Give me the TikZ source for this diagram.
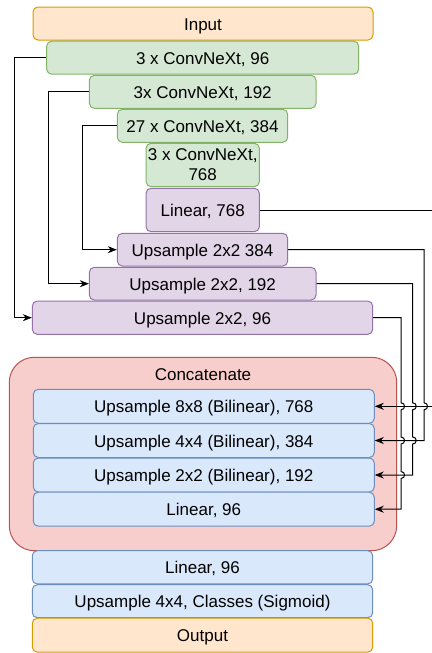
\documentclass[tikz,border=0pt]{standalone}
\usepackage{fontspec}
\setmainfont{Liberation Sans}
\usetikzlibrary{arrows.meta}

\definecolor{ioFill}{HTML}{FFE6CC}
\definecolor{ioLine}{HTML}{D79B00}
\definecolor{encFill}{HTML}{D5E8D4}
\definecolor{encLine}{HTML}{82B366}
\definecolor{decFill}{HTML}{E1D5E7}
\definecolor{decLine}{HTML}{9673A6}
\definecolor{catFill}{HTML}{F8CECC}
\definecolor{catLine}{HTML}{B85450}
\definecolor{headFill}{HTML}{DAE8FC}
\definecolor{headLine}{HTML}{6C8EBF}

% small bump where a vertical line hops over a horizontal one
\newcommand{\linejump}[2]{-- (#1,#2-3.5) .. controls (#1+4.7,#2-3.5) and (#1+4.7,#2+3.5) .. (#1,#2+3.5)}

\begin{document}
\begin{tikzpicture}[x=1pt,y=-1pt,
    every node/.style={font=\fontsize{17}{20}\selectfont},
    blk/.style={rectangle,rounded corners=5pt,draw,line width=1pt,inner sep=0pt,align=center},
    oneline/.style={text height=16pt,text depth=3pt},
    io/.style={blk,oneline,fill=ioFill,draw=ioLine},
    enc/.style={blk,oneline,fill=encFill,draw=encLine},
    dec/.style={blk,oneline,fill=decFill,draw=decLine},
    head/.style={blk,oneline,fill=headFill,draw=headLine},
    link/.style={line width=1pt,-{Stealth[length=9pt,width=7pt]}}]
    \useasboundingbox (0,0) rectangle (431,653);

    % encoder
    \node[io, minimum width=340pt, minimum height=33pt] (in) at (203,23.5) {Input};
    \node[enc, minimum width=312pt, minimum height=33pt] (c1) at (202.7,57.7) {3 x ConvNeXt, 96};
    \node[enc, minimum width=226.7pt, minimum height=33pt] (c2) at (202.7,91.8) {3x ConvNeXt, 192};
    \node[enc, minimum width=170.4pt, minimum height=33pt] (c3) at (202.5,125.8) {27 x ConvNeXt, 384};
    \node[blk, fill=encFill, draw=encLine, minimum width=113.3pt, minimum height=43.4pt] (c4) at (202.7,165) {3 x ConvNeXt,\\768};

    % decoder
    \node[dec, minimum width=113.3pt, minimum height=43.4pt] (lin) at (202.7,210) {Linear, 768};
    \node[dec, minimum width=170.4pt, minimum height=32.7pt] (u3) at (202.5,249.7) {Upsample 2x2 384};
    \node[dec, minimum width=226.7pt, minimum height=32.7pt] (u2) at (202.7,283.7) {Upsample 2x2, 192};
    \node[dec, minimum width=340.4pt, minimum height=33.3pt] (u1) at (202.5,317.7) {Upsample 2x2, 96};

    % head
    \node[blk, rounded corners=25pt, fill=catFill, draw=catLine, minimum width=387.4pt, minimum height=193.4pt] (cat) at (203,454) {};
    \node (catlbl) at (203,375) {Concatenate};
    \node[head, minimum width=341pt, minimum height=34pt] (b1) at (203.8,406.3) {Upsample 8x8 (Bilinear), 768};
    \node[head, minimum width=341pt, minimum height=34pt] (b2) at (203.8,440.5) {Upsample 4x4 (Bilinear), 384};
    \node[head, minimum width=341pt, minimum height=34pt] (b3) at (203.8,475) {Upsample 2x2 (Bilinear), 192};
    \node[head, minimum width=341pt, minimum height=34pt] (b4) at (203.8,509.2) {Linear, 96};
    \node[head, minimum width=340.4pt, minimum height=33.3pt] (l2) at (202.5,567.3) {Linear, 96};
    \node[head, minimum width=340.4pt, minimum height=33pt] (up) at (202.5,601.2) {Upsample 4x4, Classes (Sigmoid)};
    \node[io, minimum width=340.4pt, minimum height=34pt] (out) at (202.5,635.2) {Output};

    % skip connections
    \draw[link] (c1.west) -- ++(-31.4,0) |- (u1.west);
    \draw[link] (c2.west) -- ++(-40,0) |- (u2.west);
    \draw[link] (c3.west) -- ++(-34,0) |- (u3.west);

    % feature pyramid into the head
    \draw[link] (lin.east) -- (445,210) |- (b1.east);
    \draw[link] (u3.east) -| (424,300) \linejump{424}{406.3} |- (b2.east);
    \draw[link] (u2.east) -| (412.7,320) \linejump{412.7}{406.3} \linejump{412.7}{440.5} |- (b3.east);
    \draw[link] (u1.east) -| (401,340) \linejump{401}{406.3} \linejump{401}{440.5} \linejump{401}{475} |- (b4.east);
\end{tikzpicture}
\end{document}
